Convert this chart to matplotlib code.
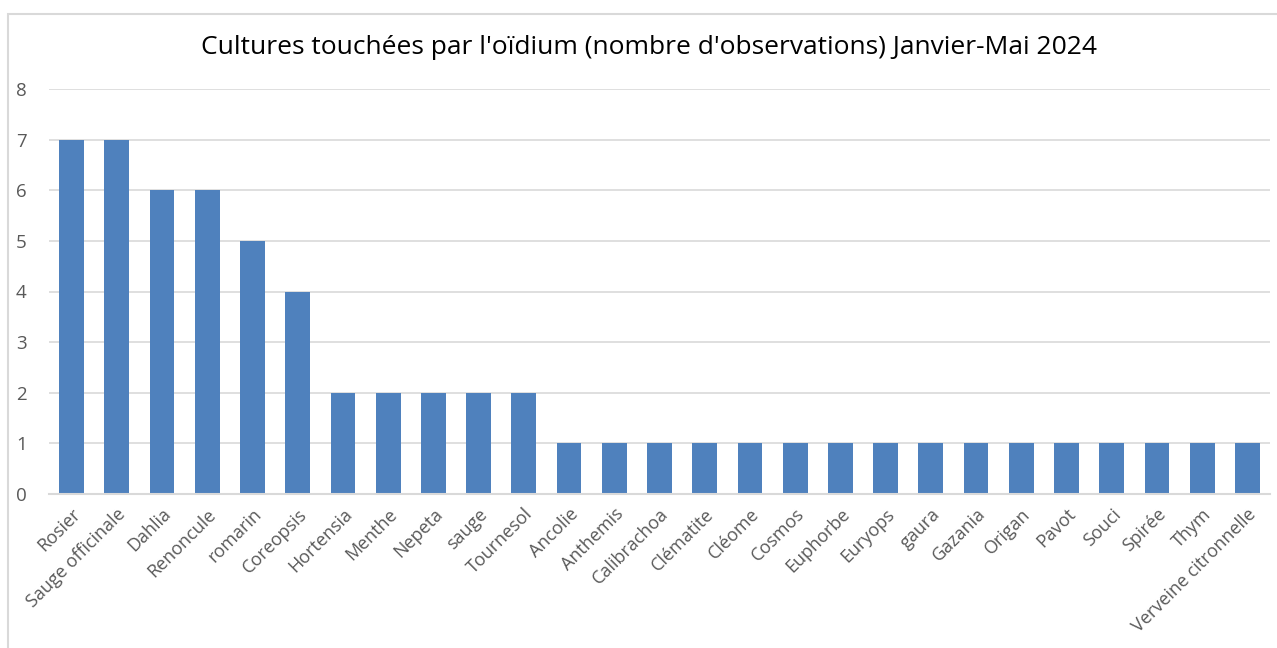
import matplotlib
matplotlib.use("Agg")
import matplotlib.pyplot as plt
from matplotlib.patches import Rectangle

categories = ["Rosier", "Sauge officinale", "Dahlia", "Renoncule", "romarin", "Coreopsis",
              "Hortensia", "Menthe", "Nepeta", "sauge", "Tournesol", "Ancolie", "Anthemis",
              "Calibrachoa", "Clématite", "Cléome", "Cosmos", "Euphorbe", "Euryops", "gaura",
              "Gazania", "Origan", "Pavot", "Souci", "Spirée", "Thym", "Verveine citronnelle"]
values = [7, 7, 6, 6, 5, 4, 2, 2, 2, 2, 2, 1, 1, 1, 1, 1, 1, 1, 1, 1, 1, 1, 1, 1, 1, 1, 1]
yticks = [0, 1, 2, 3, 4, 5, 6, 7, 8]
title = "Cultures touchées par l'oïdium (nombre d'observations) Janvier-Mai 2024"

plt.rcParams['font.family'] = ['Open Sans', 'DejaVu Sans']
W, H = 1277, 648
fig = plt.figure(figsize=(W / 100, H / 100), dpi=100)
fig.patch.set_facecolor("white")

# chart frame (light gray border)
fig.patches.append(Rectangle((8 / W, -0.1), 1.2, 1 - 14 / H + 0.1, transform=fig.transFigure,
                             fill=False, edgecolor="#D9D9D9", linewidth=1.5))

ax = fig.add_axes([49 / W, 1 - 494 / H, (1270 - 49) / W, (494 - 89) / H])
x = list(range(len(values)))
ax.bar(x, values, width=0.55, color="#4F81BD", zorder=3)
ax.set_xlim(-0.5, len(values) - 0.5)
ax.set_ylim(0, 8)
ax.set_yticks(yticks)
ax.set_yticklabels([str(t) for t in yticks], fontsize=13.5, color="#595959")
ax.set_xticks(x)
ax.set_xticklabels(categories, rotation=45, ha="right", rotation_mode="anchor",
                   fontsize=13, color="#595959")
ax.tick_params(axis="both", length=0)
ax.tick_params(axis="y", pad=16)
ax.tick_params(axis="x", pad=8)
ax.grid(axis="y", color="#D9D9D9", linewidth=1.2, zorder=0)
for s in ["top", "right", "left"]:
    ax.spines[s].set_visible(False)
ax.spines["bottom"].set_color("#D9D9D9")
ax.spines["bottom"].set_linewidth(1.5)
ax.spines["bottom"].set_zorder(4)

fig.text(649 / W, 1 - 47 / H, title, ha="center", va="center", fontsize=19, color="#000000")

fig.savefig("out.png", dpi=100)
